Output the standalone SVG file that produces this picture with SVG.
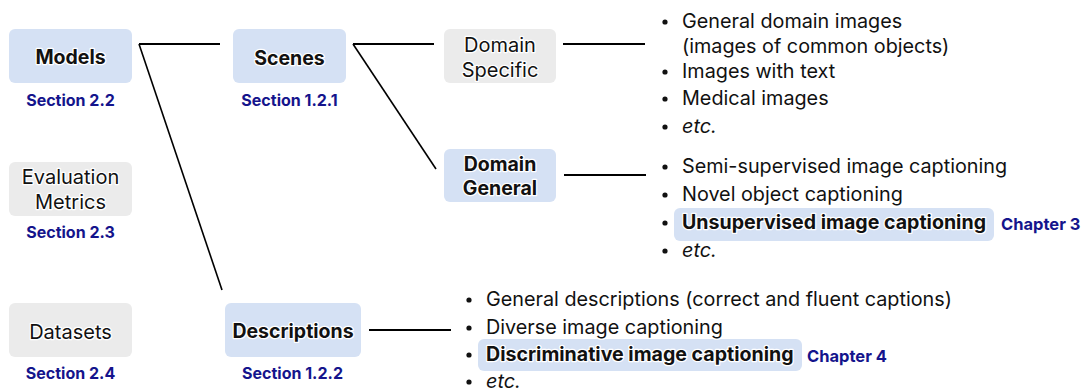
<svg xmlns="http://www.w3.org/2000/svg" width="1083" height="391" viewBox="0 0 1083 391">
<style>
.blue{fill:#d5e1f4}
.gray{fill:#ebebeb}
.hl{fill:#d5e1f4}
text{font-family:Inter,"Liberation Sans",sans-serif;fill:#111;paint-order:stroke;stroke:#fff;stroke-width:2.5;stroke-linejoin:round}
.node{font-size:20px;text-anchor:middle}
.node.b{font-size:19.5px}
.b{font-weight:bold}
.sec{font-size:16px;font-weight:bold;fill:#14148c;text-anchor:middle;stroke:none}
.ch{font-size:16.5px;font-weight:bold;fill:#14148c;stroke:none}
.li{font-size:19.8px}
.li.b{font-size:19.6px}
.it{font-style:italic}
.conn line{stroke:#000;stroke-width:2}
.conn line.d{stroke-width:1.6}
.bul circle{fill:#111}
</style>
<g id="models">
<rect class="blue" x="9" y="29" width="123" height="54" rx="6"/>
<text class="node b" x="70.5" y="64">Models</text>
<text class="sec" x="70.5" y="106">Section 2.2</text>
</g>
<g id="evaluation-metrics">
<rect class="gray" x="9" y="162" width="123" height="54" rx="6"/>
<text class="node" x="70.5" y="184">Evaluation</text>
<text class="node" x="70.5" y="209">Metrics</text>
<text class="sec" x="70.5" y="238">Section 2.3</text>
</g>
<g id="datasets">
<rect class="gray" x="9" y="303" width="123" height="54" rx="6"/>
<text class="node" x="70.5" y="339">Datasets</text>
<text class="sec" x="70.5" y="379">Section 2.4</text>
</g>
<g id="scenes">
<rect class="blue" x="233" y="29" width="113" height="54" rx="6"/>
<text class="node b" x="289.5" y="65">Scenes</text>
<text class="sec" x="289.5" y="106">Section 1.2.1</text>
</g>
<g id="descriptions">
<rect class="blue" x="225" y="303" width="136" height="54" rx="6"/>
<text class="node b" x="293" y="338">Descriptions</text>
<text class="sec" x="292.5" y="379">Section 1.2.2</text>
</g>
<g id="domain-specific">
<rect class="gray" x="444" y="29" width="112" height="54" rx="6"/>
<text class="node" x="500" y="52">Domain</text>
<text class="node" x="500" y="77">Specific</text>
</g>
<g id="domain-general">
<rect class="blue" x="444" y="149" width="112" height="53" rx="6"/>
<text class="node b" x="500" y="171">Domain</text>
<text class="node b" x="500" y="195">General</text>
</g>
<g id="list-domain-specific">
<g class="bul"><circle cx="665" cy="22" r="2.6"/><circle cx="665" cy="72" r="2.6"/><circle cx="665" cy="99" r="2.6"/><circle cx="665" cy="127" r="2.6"/></g>
<text class="li" x="682" y="28">General domain images</text>
<text class="li" x="682" y="53">(images of common objects)</text>
<text class="li" x="682" y="78">Images with text</text>
<text class="li" x="682" y="105">Medical images</text>
<text class="li it" x="682" y="133">etc.</text>
</g>
<g id="list-domain-general">
<rect class="hl" x="674" y="208" width="320" height="33" rx="6"/>
<g class="bul"><circle cx="665" cy="167" r="2.6"/><circle cx="665" cy="195" r="2.6"/><circle cx="665" cy="223" r="2.6"/><circle cx="665" cy="251" r="2.6"/></g>
<text class="li" x="682" y="173">Semi-supervised image captioning</text>
<text class="li" x="682" y="201">Novel object captioning</text>
<text class="li b" x="682" y="229">Unsupervised image captioning</text>
<text class="ch" x="1001" y="230">Chapter 3</text>
<text class="li it" x="682" y="257">etc.</text>
</g>
<g id="list-descriptions">
<rect class="hl" x="478" y="339" width="324" height="32" rx="6"/>
<g class="bul"><circle cx="469" cy="300" r="2.6"/><circle cx="469" cy="328" r="2.6"/><circle cx="469" cy="355" r="2.6"/><circle cx="469" cy="382" r="2.6"/></g>
<text class="li" x="486" y="306">General descriptions (correct and fluent captions)</text>
<text class="li" x="486" y="334">Diverse image captioning</text>
<text class="li b" x="486" y="361">Discriminative image captioning</text>
<text class="ch" x="807" y="362">Chapter 4</text>
<text class="li it" x="486" y="388">etc.</text>
</g>
<g id="connectors" class="conn">
<line x1="139" y1="44" x2="220" y2="44"/>
<line class="d" x1="139" y1="44" x2="222" y2="290"/>
<line x1="353" y1="44" x2="434" y2="44"/>
<line class="d" x1="353" y1="44" x2="436" y2="169"/>
<line x1="563" y1="44" x2="645" y2="44"/>
<line x1="564" y1="175" x2="646" y2="175"/>
<line x1="369" y1="330" x2="451" y2="330"/>
</g>
</svg>
